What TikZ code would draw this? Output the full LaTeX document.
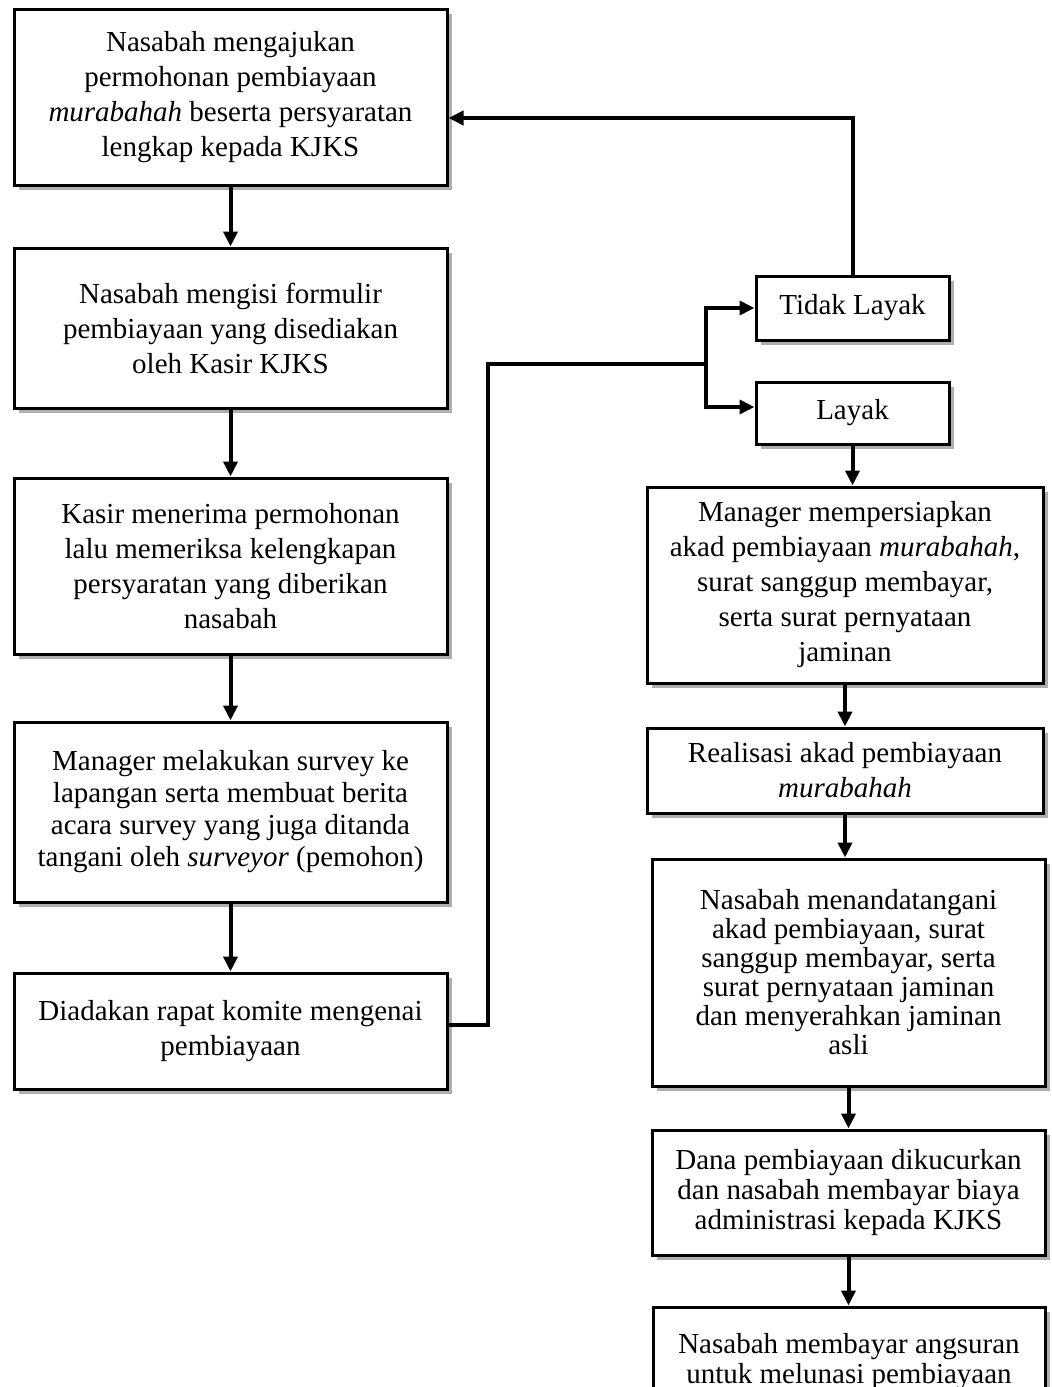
\documentclass[tikz,border=0pt]{standalone}
\usepackage{fontspec}
\setmainfont{Liberation Serif}
\usetikzlibrary{arrows.meta}
\usetikzlibrary{shadows}
\tikzset{
	mybox/.style={draw, line width=1.5pt, fill=white, align=center, inner sep=0pt,
		drop shadow={shadow xshift=2.5pt, shadow yshift=-2.5pt, opacity=.45, fill=black!70},
		font=\fontsize{14.5}{#1}\selectfont},
	mybox/.default=17.5,
	myline/.style={line width=2pt},
	myarrow/.style={line width=2pt, -{Triangle[length=7.5pt, width=7pt]}}
}

\begin{document}
\begin{tikzpicture}[x=0.5pt, y=-0.5pt]
		\path[use as bounding box, clip] (0,0) rectangle (1051,1387);
		
		% kolom kiri
		\node[mybox, minimum width=216.5pt, minimum height=88pt] (ajukan) at (230.5,97) {Nasabah mengajukan\\ permohonan pembiayaan\\ \textit{murabahah} beserta persyaratan\\ lengkap kepada KJKS};
		\node[mybox, minimum width=216.5pt, minimum height=80pt] (isi) at (230.5,328) {Nasabah mengisi formulir\\ pembiayaan yang disediakan\\ oleh Kasir KJKS};
		\node[mybox, minimum width=216.5pt, minimum height=88pt] (periksa) at (230.5,566) {Kasir menerima permohonan\\ lalu memeriksa kelengkapan\\ persyaratan yang diberikan\\ nasabah};
		\node[mybox=16, minimum width=216.5pt, minimum height=90pt] (survei) at (230.5,812) {Manager melakukan survey ke\\ lapangan serta membuat berita\\ acara survey yang juga ditanda\\ tangani oleh \textit{surveyor} (pemohon)};
		\node[mybox, minimum width=216.5pt, minimum height=58pt] (rapat) at (230.5,1031) {Diadakan rapat komite mengenai\\ pembiayaan};
		
		% keputusan
		\node[mybox, minimum width=96.5pt, minimum height=32pt] (tidak) at (852.5,308) {Tidak Layak};
		\node[mybox, minimum width=96.5pt, minimum height=31pt] (layak) at (852.5,413) {Layak};
		
		% kolom kanan
		\node[mybox, minimum width=198pt, minimum height=98pt] (siapkan) at (845,585) {Manager mempersiapkan\\ akad pembiayaan \textit{murabahah},\\ surat sanggup membayar,\\ serta surat pernyataan\\ jaminan};
		\node[mybox, minimum width=198pt, minimum height=42.5pt] (realisasi) at (845,770.5) {Realisasi akad pembiayaan\\ \textit{murabahah}};
		\node[mybox=14.5, minimum width=196.5pt, minimum height=113.5pt] (tanda) at (848.5,972.5) {Nasabah menandatangani\\ akad pembiayaan, surat\\ sanggup membayar, serta\\ surat pernyataan jaminan\\ dan menyerahkan jaminan\\ asli};
		\node[mybox=15, minimum width=196.5pt, minimum height=62.5pt] (cair) at (848.5,1192.5) {Dana pembiayaan dikucurkan\\ dan nasabah membayar biaya\\ administrasi kepada KJKS};
		\node[mybox=15, minimum width=196pt, minimum height=55pt] (angsur) at (849,1362) {Nasabah membayar angsuran\\ untuk melunasi pembiayaan};
		
		\foreach \a/\b in {ajukan/isi, isi/periksa, periksa/survei, survei/rapat, layak/siapkan, siapkan/realisasi, realisasi/tanda, tanda/cair, cair/angsur}
			\draw[myarrow] (\a.south) -- (\a.south |- \b.north);
		
		% percabangan hasil rapat
		\coordinate (belok) at (488,364);
		\coordinate (cabang) at (706,364);
		\draw[myline] ([yshift=3pt]rapat.east) -| (belok) -- (cabang);
		\draw[myarrow] (cabang) |- (tidak.west);
		\draw[myarrow] (cabang) |- ([yshift=3pt]layak.west);
		\draw[myarrow] (tidak.north) |- ([yshift=-10.5pt]ajukan.east);
	\end{tikzpicture}
\end{document}
